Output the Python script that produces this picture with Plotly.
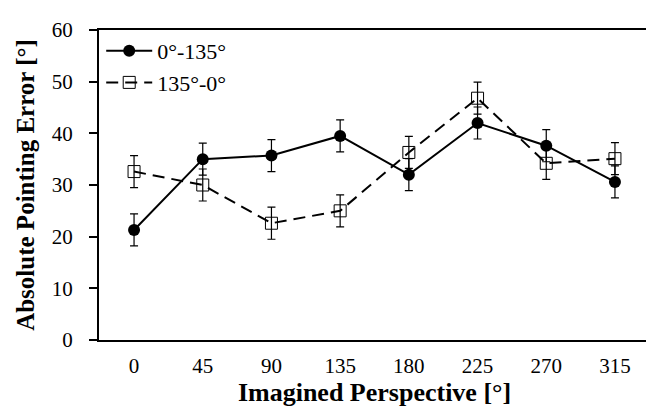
import plotly.graph_objects as go

categories = ["0", "45", "90", "135", "180", "225", "270", "315"]
series_a_name = "0°-135°"
series_a = [21.3, 35.0, 35.7, 39.5, 32.0, 42.0, 37.6, 30.6]
series_a_err = [3.1, 3.1, 3.1, 3.1, 3.1, 3.1, 3.1, 3.1]
series_b_name = "135°-0°"
series_b = [32.6, 30.0, 22.6, 25.0, 36.3, 46.8, 34.2, 35.1]
series_b_err = [3.1, 3.1, 3.1, 3.1, 3.1, 3.1, 3.1, 3.1]

serif = "Liberation Serif"

fig = go.Figure()
fig.add_trace(go.Scatter(
    x=categories, y=series_b, name=series_b_name, mode="lines+markers",
    line=dict(color="black", width=2, dash="12px,7px"),
    marker=dict(symbol="square-open", size=12, color="black", line=dict(width=1)),
    error_y=dict(type="data", array=series_b_err, color="black", thickness=1.2, width=4),
))
fig.add_trace(go.Scatter(
    x=categories, y=series_a, name=series_a_name, mode="lines+markers",
    line=dict(color="black", width=2),
    marker=dict(symbol="circle", size=12, color="black"),
    error_y=dict(type="data", array=series_a_err, color="black", thickness=1.2, width=4),
))

fig.update_layout(
    width=654, height=418,
    margin=dict(l=91, r=10, t=21, b=86),
    paper_bgcolor="white", plot_bgcolor="white",
    font=dict(family=serif, color="black", size=21),
    showlegend=True,
    legend=dict(x=0.004, y=1.0, xanchor="left", yanchor="top", traceorder="reversed",
                font=dict(family=serif, size=22), bgcolor="rgba(0,0,0,0)",
                tracegroupgap=0, itemwidth=46),
)
fig.update_xaxes(
    type="category", showline=True, linecolor="black", linewidth=2, mirror=True,
    showgrid=False, ticks="", tickfont=dict(family=serif, size=21), ticklabelstandoff=6,
    title=dict(text="<b>Imagined Perspective [°]</b>", font=dict(family=serif, size=26), standoff=5),
)
fig.update_yaxes(
    range=[0, 60], dtick=10, showline=True, linecolor="black", linewidth=2, mirror=True,
    showgrid=False, zeroline=False, ticks="outside", ticklen=8, tickwidth=1.5, tickcolor="black",
    tickfont=dict(family=serif, size=21), ticklabelstandoff=12,
    title=dict(text="<b>Absolute Pointing Error [°]</b>", font=dict(family=serif, size=25), standoff=10),
)

fig.write_html("out.html")
